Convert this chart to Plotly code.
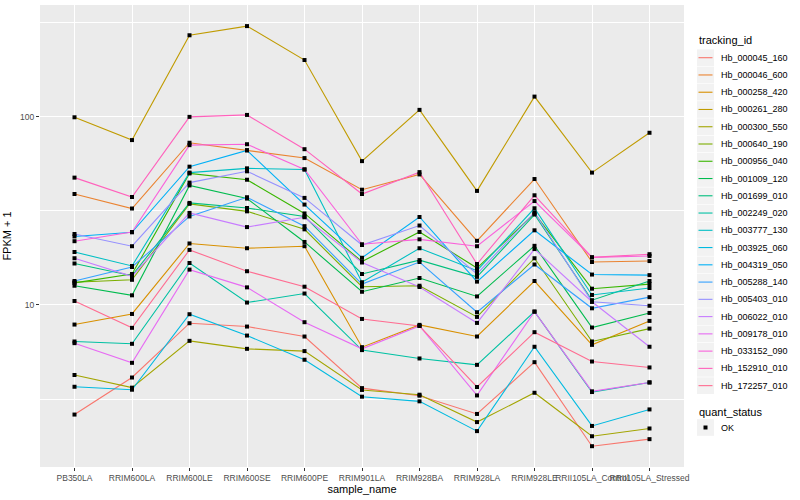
import plotly.graph_objects as go

samples = ["PB350LA", "RRIM600LA", "RRIM600LE", "RRIM600SE", "RRIM600PE",
           "RRIM901LA", "RRIM928BA", "RRIM928LA", "RRIM928LE",
           "RRII105LA_Control", "RRII105LA_Stressed"]

tracking_ids = ["Hb_000045_160", "Hb_000046_600", "Hb_000258_420", "Hb_000261_280",
                "Hb_000300_550", "Hb_000640_190", "Hb_000956_040", "Hb_001009_120",
                "Hb_001699_010", "Hb_002249_020", "Hb_003777_130", "Hb_003925_060",
                "Hb_004319_050", "Hb_005288_140", "Hb_005403_010", "Hb_006022_010",
                "Hb_009178_010", "Hb_033152_090", "Hb_152910_010", "Hb_172257_010"]

colors = ["#F8766D", "#EA8331", "#D89000", "#C09B00", "#A3A500", "#7CAE00",
          "#39B600", "#00BB4E", "#00BF7D", "#00C1A3", "#00BFC4", "#00BAE0",
          "#00B0F6", "#35A2FF", "#9590FF", "#C77CFF", "#E76BF3", "#FA62DB",
          "#FF62BC", "#FF6C91"]

# FPKM + 1 values per tracking_id, one value per sample
Hb_000045_160 = [2.62, 4.12, 8.0, 7.68, 6.80, 3.62, 3.30, 2.64, 4.97, 1.78, 1.94]
Hb_000046_600 = [38.8, 32.5, 72.6, 66.3, 60.2, 40.9, 49.3, 21.9, 46.6, 16.9, 17.1]
Hb_000258_420 = [7.87, 8.96, 21.2, 20.0, 20.5, 5.97, 7.84, 6.80, 13.4, 6.14, 8.23]
Hb_000261_280 = [99.1, 75.0, 270.0, 302.0, 199.5, 58.0, 108.5, 40.3, 127.6, 50.4, 82.0]
Hb_000300_550 = [4.25, 3.64, 6.45, 5.85, 5.69, 3.54, 3.34, 2.39, 3.42, 2.01, 2.21]
Hb_000640_190 = [13.2, 13.6, 34.4, 31.4, 25.2, 12.5, 12.65, 8.64, 17.7, 6.40, 7.49]
Hb_000956_040 = [13.1, 14.6, 49.9, 46.2, 30.6, 17.0, 24.4, 15.7, 30.6, 12.2, 12.9]
Hb_001009_120 = [12.65, 11.25, 43.1, 36.7, 21.6, 11.75, 13.9, 11.1, 20.6, 7.59, 9.07]
Hb_001699_010 = [16.6, 14.3, 34.8, 32.7, 29.5, 14.6, 17.3, 14.1, 30.2, 10.6, 13.4]
Hb_002249_020 = [6.40, 6.22, 16.7, 10.3, 11.5, 5.76, 5.20, 4.81, 9.22, 3.45, 3.88]
Hb_003777_130 = [19.1, 16.1, 50.4, 53.1, 52.4, 13.2, 20.0, 15.2, 32.6, 11.3, 12.3]
Hb_003925_060 = [3.68, 3.55, 8.93, 6.88, 5.12, 3.26, 3.08, 2.14, 6.0, 2.28, 2.79]
Hb_004319_050 = [23.1, 24.3, 54.2, 66.1, 34.1, 17.8, 29.3, 13.3, 24.9, 14.5, 14.4]
Hb_005288_140 = [13.4, 15.9, 29.5, 37.3, 26.2, 12.9, 16.9, 9.15, 16.4, 9.6, 11.0]
Hb_005403_010 = [23.8, 20.5, 44.6, 51.2, 37.0, 20.8, 26.4, 14.6, 31.0, 10.4, 9.9]
Hb_006022_010 = [17.7, 14.2, 30.8, 25.9, 29.2, 16.8, 12.45, 8.03, 19.8, 10.4, 6.0]
Hb_009178_010 = [6.27, 4.93, 15.4, 12.4, 8.10, 5.85, 7.74, 3.31, 9.22, 3.48, 3.88]
Hb_033152_090 = [21.8, 24.4, 70.5, 71.3, 52.4, 21.0, 22.3, 20.5, 35.6, 17.9, 18.2]
Hb_152910_010 = [47.4, 37.4, 99.6, 102.0, 67.1, 38.8, 50.7, 16.5, 38.2, 17.9, 18.6]
Hb_172257_010 = [10.5, 7.56, 19.6, 15.1, 12.5, 8.43, 7.74, 3.67, 7.17, 5.01, 4.66]

series = [Hb_000045_160, Hb_000046_600, Hb_000258_420, Hb_000261_280, Hb_000300_550,
          Hb_000640_190, Hb_000956_040, Hb_001009_120, Hb_001699_010, Hb_002249_020,
          Hb_003777_130, Hb_003925_060, Hb_004319_050, Hb_005288_140, Hb_005403_010,
          Hb_006022_010, Hb_009178_010, Hb_033152_090, Hb_152910_010, Hb_172257_010]

quant_status = ["OK"]

FONT = "Liberation Sans, Arial, Helvetica, sans-serif"

# layout geometry (pixels)
W, H = 800, 500
L, R, T, B = 40, 116, 5, 33
PW, PH = W - L - R, H - T - B


def px_x(px):
    return (px - L) / PW


def px_y(py):
    return (H - B - py) / PH


fig = go.Figure()
for name, vals, col in zip(tracking_ids, series, colors):
    fig.add_trace(go.Scatter(x=samples, y=vals, mode="lines", name=name,
                             line=dict(color=col, width=1.1), showlegend=False))

# black points (quant_status = OK)
for vals in series:
    fig.add_trace(go.Scatter(x=samples, y=vals, mode="markers",
                             marker=dict(color="black", size=4, symbol="square"),
                             name=quant_status[0], showlegend=False, hoverinfo="skip"))

# ggplot-style legends drawn in the right margin
shapes = []
annotations = []
key_x0, key_x1 = 697, 714
first_y, step = 57.7, 17.26
annotations.append(dict(text="tracking_id", x=px_x(697), y=px_y(40.5), xref="paper", yref="paper",
                        xanchor="left", yanchor="middle", showarrow=False,
                        font=dict(size=11, color="black", family=FONT)))
for i, (name, col) in enumerate(zip(tracking_ids, colors)):
    cy = first_y + i * step
    shapes.append(dict(type="rect", xref="paper", yref="paper",
                       x0=px_x(key_x0), x1=px_x(key_x1),
                       y0=px_y(cy - step / 2 + 0.3), y1=px_y(cy + step / 2 - 0.3),
                       fillcolor="#F2F2F2", line=dict(width=0), layer="above"))
    shapes.append(dict(type="line", xref="paper", yref="paper",
                       x0=px_x(key_x0 + 1.5), x1=px_x(key_x1 - 1.5),
                       y0=px_y(cy), y1=px_y(cy),
                       line=dict(color=col, width=1.1), layer="above"))
    annotations.append(dict(text=name, x=px_x(719), y=px_y(cy), xref="paper", yref="paper",
                            xanchor="left", yanchor="middle", showarrow=False,
                            font=dict(size=9, color="black", family=FONT)))

annotations.append(dict(text="quant_status", x=px_x(697), y=px_y(411.5), xref="paper", yref="paper",
                        xanchor="left", yanchor="middle", showarrow=False,
                        font=dict(size=11, color="black", family=FONT)))
qy = 427.5
shapes.append(dict(type="rect", xref="paper", yref="paper",
                   x0=px_x(key_x0), x1=px_x(key_x1),
                   y0=px_y(qy - step / 2 + 0.3), y1=px_y(qy + step / 2 - 0.3),
                   fillcolor="#F2F2F2", line=dict(width=0), layer="above"))
shapes.append(dict(type="rect", xref="paper", yref="paper",
                   x0=px_x(703.5), x1=px_x(707.5), y0=px_y(qy - 2), y1=px_y(qy + 2),
                   fillcolor="black", line=dict(width=0), layer="above"))
annotations.append(dict(text=quant_status[0], x=px_x(719), y=px_y(qy), xref="paper", yref="paper",
                        xanchor="left", yanchor="middle", showarrow=False,
                        font=dict(size=9, color="black", family=FONT)))

fig.update_layout(
    width=W, height=H,
    margin=dict(l=L, r=R, t=T, b=B, autoexpand=False),
    paper_bgcolor="white",
    plot_bgcolor="#EBEBEB",
    font=dict(family=FONT, size=9, color="#4D4D4D"),
    showlegend=False,
    shapes=shapes,
    annotations=annotations,
)

fig.update_xaxes(
    type="category", categoryorder="array", categoryarray=samples,
    range=[-0.6, len(samples) - 0.4],
    showgrid=True, gridcolor="white", gridwidth=1.1,
    zeroline=False, showline=False,
    ticks="outside", ticklen=3, tickcolor="#333333", tickwidth=1,
    tickangle=0, tickfont=dict(size=8.5, color="#4D4D4D"),
    title=dict(text="sample_name", font=dict(size=11, color="black"), standoff=3),
    automargin=False,
)

fig.update_yaxes(
    type="log", range=[0.14, 2.592],
    tickvals=[10, 100], ticktext=["10", "100"],
    showgrid=True, gridcolor="white", gridwidth=1.1,
    minor=dict(tickvals=[3.1623, 31.623, 316.23], showgrid=True,
               gridcolor="white", gridwidth=0.55, ticks=""),
    zeroline=False, showline=False,
    ticks="outside", ticklen=3, tickcolor="#333333", tickwidth=1,
    tickfont=dict(size=8.5, color="#4D4D4D"),
    title=dict(text="FPKM + 1", font=dict(size=11, color="black"), standoff=6),
    automargin=False,
)

fig.write_html("out.html",
               config={"displayModeBar": False},
               post_script="document.body.style.margin='0';document.body.style.overflow='hidden';")
